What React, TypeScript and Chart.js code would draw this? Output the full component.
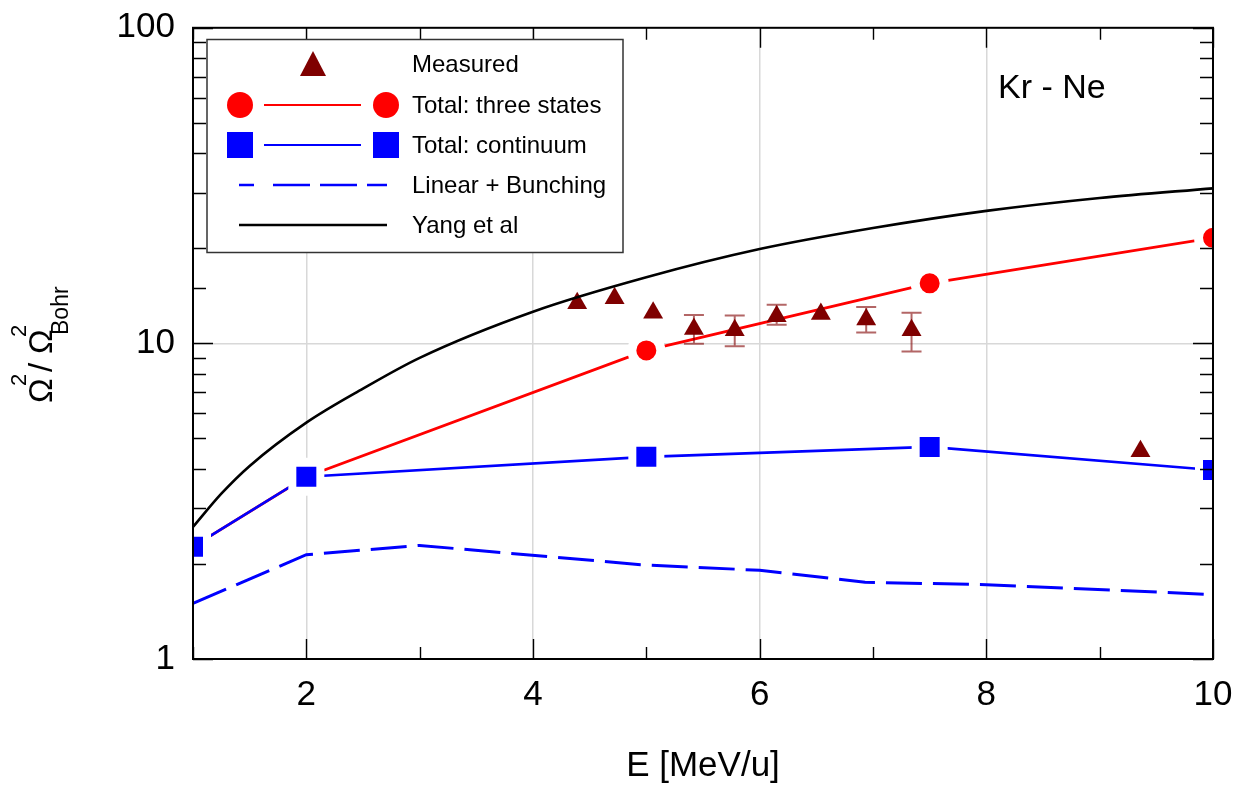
import React, { useEffect, useRef } from 'react';
import { Chart, registerables } from 'chart.js';

Chart.register(...registerables);

// ---------- data ----------
const yangE = [1, 1.25, 1.5, 2, 2.5, 3, 4, 5, 6, 7, 8, 9, 10];
const yangV = [2.62, 3.34, 4.09, 5.61, 7.19, 9.0, 12.6, 16.2, 19.9, 23.2, 26.3, 28.9, 31.0];

const threeE = [1, 2, 5, 7.5, 10];
const threeV = [2.27, 3.78, 9.5, 15.5, 21.6];

const contE = [1, 2, 5, 7.5, 10];
const contV = [2.27, 3.78, 4.37, 4.7, 3.97];

const bunchE = [1, 2, 3, 4.95, 6, 6.93, 8, 10];
const bunchV = [1.5, 2.14, 2.29, 1.99, 1.91, 1.75, 1.72, 1.6];

const measE = [4.39, 4.72, 5.06, 5.42, 5.78, 6.15, 6.54, 6.94, 7.34, 9.36];
const measV = [13.4, 13.9, 12.5, 11.1, 11.0, 12.2, 12.4, 11.9, 11.0, 4.55];
const measLo: (number | null)[] = [null, null, null, 9.98, 9.8, 11.46, null, 10.83, 9.43, null];
const measHi: (number | null)[] = [null, null, null, 12.3, 12.25, 13.25, null, 13.05, 12.5, null];

const xTickLabels = ['2', '4', '6', '8', '10'];
const yTickLabels = ['1', '10', '100'];

const legendLabels = ['Measured', 'Total: three states', 'Total: continuum', 'Linear + Bunching', 'Yang et al'];
const panelLabel = 'Kr - Ne';
const xTitle = 'E [MeV/u]';

const FONT = '"Liberation Sans", Arial, Helvetica, sans-serif';
const RED = '#ff0000';
const BLUE = '#0000ff';
const MAROON = '#7f0000';

const pts = (xs: number[], ys: number[]) => xs.map((x, i) => ({ x, y: ys[i] }));

const decorPlugin = {
  id: 'decor',
  afterDatasetsDraw(chart: any) {
    const { ctx: c, chartArea: a } = chart;
    const xs = chart.scales.x;
    const ys = chart.scales.y;
    c.save();
    c.beginPath();
    c.rect(a.left, a.top, a.right - a.left, a.bottom - a.top);
    c.clip();
    c.strokeStyle = 'rgba(128,0,0,0.6)';
    c.lineWidth = 2;
    for (let i = 0; i < measE.length; i++) {
      const lo = measLo[i];
      const hi = measHi[i];
      if (lo == null || hi == null) continue;
      const px = xs.getPixelForValue(measE[i]);
      const pl = ys.getPixelForValue(lo);
      const ph = ys.getPixelForValue(hi);
      c.beginPath();
      c.moveTo(px, pl);
      c.lineTo(px, ph);
      c.moveTo(px - 10, pl);
      c.lineTo(px + 10, pl);
      c.moveTo(px - 10, ph);
      c.lineTo(px + 10, ph);
      c.stroke();
    }
    c.restore();
  },
  afterDraw(chart: any) {
    const { ctx: c, chartArea: a } = chart;
    const xs = chart.scales.x;
    const ys = chart.scales.y;
    c.save();
    // inward tick marks
    c.strokeStyle = '#000';
    c.lineWidth = 1.4;
    c.beginPath();
    for (const t of xs.ticks) {
      const px = Math.round(xs.getPixelForValue(t.value)) + 0.5;
      const len = Math.round(t.value) % 2 === 0 ? 20 : 12;
      c.moveTo(px, a.bottom);
      c.lineTo(px, a.bottom - len);
      c.moveTo(px, a.top);
      c.lineTo(px, a.top + len);
    }
    for (const t of ys.ticks) {
      const v = t.value;
      const lg = Math.log10(v);
      const major = Math.abs(lg - Math.round(lg)) < 1e-9;
      const py = Math.round(ys.getPixelForValue(v)) + 0.5;
      const len = major ? 20 : 13;
      c.moveTo(a.left, py);
      c.lineTo(a.left + len, py);
      c.moveTo(a.right, py);
      c.lineTo(a.right - len, py);
    }
    c.stroke();
    // frame
    c.lineWidth = 2;
    c.strokeRect(a.left, a.top, a.right - a.left, a.bottom - a.top);

    // legend
    const bx = 207, by = 39.5, bw = 416, bh = 213;
    c.fillStyle = '#fff';
    c.fillRect(bx, by, bw, bh);
    c.strokeStyle = '#333';
    c.lineWidth = 1.5;
    c.strokeRect(bx, by, bw, bh);
    const rows = [64, 105, 145, 185, 225];
    const lx1 = 240, lx2 = 386;
    // row 0 triangle
    c.fillStyle = MAROON;
    c.beginPath();
    c.moveTo(313, rows[0] - 13);
    c.lineTo(326, rows[0] + 12);
    c.lineTo(300, rows[0] + 12);
    c.closePath();
    c.fill();
    // row 1 circles + line
    c.fillStyle = RED;
    c.strokeStyle = RED;
    c.lineWidth = 2.2;
    for (const x of [lx1, lx2]) {
      c.beginPath();
      c.arc(x, rows[1], 13, 0, Math.PI * 2);
      c.fill();
    }
    c.beginPath();
    c.moveTo(264, rows[1]);
    c.lineTo(361, rows[1]);
    c.stroke();
    // row 2 squares + line
    c.fillStyle = BLUE;
    c.strokeStyle = BLUE;
    for (const x of [lx1, lx2]) c.fillRect(x - 13, rows[2] - 13, 26, 26);
    c.beginPath();
    c.moveTo(264, rows[2]);
    c.lineTo(361, rows[2]);
    c.stroke();
    // row 3 dashed
    c.lineWidth = 2.5;
    c.beginPath();
    for (const [s, e] of [[239, 254], [273, 310], [320, 357], [367, 387]]) {
      c.moveTo(s, rows[3]);
      c.lineTo(e, rows[3]);
    }
    c.stroke();
    // row 4 black
    c.strokeStyle = '#000';
    c.beginPath();
    c.moveTo(239, rows[4]);
    c.lineTo(387, rows[4]);
    c.stroke();
    // legend text
    c.fillStyle = '#000';
    c.font = `24px ${FONT}`;
    c.textAlign = 'left';
    c.textBaseline = 'middle';
    legendLabels.forEach((s, i) => c.fillText(s, 412, rows[i] + 1));

    // panel label
    c.font = `34px ${FONT}`;
    c.textBaseline = 'alphabetic';
    c.fillText(panelLabel, 998, 98);

    // y title (rotated) with super/subscripts
    c.translate(52, 403);
    c.rotate(-Math.PI / 2);
    c.textBaseline = 'alphabetic';
    c.font = `33px ${FONT}`;
    c.fillText('\u03A9', 0, 0);
    c.font = `22px ${FONT}`;
    c.fillText('2', 17, -26);
    c.font = `33px ${FONT}`;
    c.fillText('/', 31, 0);
    c.fillText('\u03A9', 49, 0);
    c.font = `22px ${FONT}`;
    c.fillText('2', 66, -26);
    c.font = `23px ${FONT}`;
    c.fillText('Bohr', 68, 16);
    c.restore();
  },
};

export default function App() {
  const ref = useRef<HTMLCanvasElement>(null);
  useEffect(() => {
    document.body.style.margin = '0';
    const canvas = ref.current!;
    const chart = new Chart(canvas, {
      type: 'line',
      data: {
        datasets: [
          {
            label: legendLabels[4],
            data: pts(yangE, yangV),
            borderColor: '#000',
            borderWidth: 2.6,
            pointRadius: 0,
            cubicInterpolationMode: 'monotone',
            fill: false,
            order: 0,
          } as any,
          {
            label: legendLabels[0],
            data: pts(measE, measV),
            showLine: false,
            pointStyle: 'triangle',
            pointRadius: 11.5,
            pointBackgroundColor: MAROON,
            pointBorderColor: MAROON,
            pointBorderWidth: 0,
            order: 1,
          } as any,
          {
            label: legendLabels[2],
            data: pts(contE, contV),
            borderColor: BLUE,
            borderWidth: 2.6,
            pointStyle: 'rect',
            pointRadius: 19.8,
            pointBackgroundColor: BLUE,
            pointBorderColor: '#ffffff',
            pointBorderWidth: 8,
            tension: 0,
            order: 2,
          } as any,
          {
            label: legendLabels[1],
            data: pts(threeE, threeV),
            borderColor: RED,
            borderWidth: 2.8,
            pointStyle: 'circle',
            pointRadius: 14.5,
            pointBackgroundColor: RED,
            pointBorderColor: '#ffffff',
            pointBorderWidth: 9,
            tension: 0,
            order: 3,
          } as any,
          {
            label: legendLabels[3],
            data: pts(bunchE, bunchV),
            borderColor: BLUE,
            borderWidth: 3,
            borderDash: [36, 11],
            pointRadius: 0,
            tension: 0,
            order: 4,
          } as any,
        ],
      },
      options: {
        responsive: false,
        devicePixelRatio: 1,
        animation: false,
        events: [],
        layout: { padding: { left: 0, top: 25, right: 31, bottom: 0 } },
        plugins: { legend: { display: false }, tooltip: { enabled: false } },
        scales: {
          x: {
            type: 'linear',
            min: 1,
            max: 10,
            afterFit: (s: any) => {
              s.height = 132;
              s.paddingLeft = 0;
              s.paddingRight = 0;
              s.paddingTop = 0;
              s.paddingBottom = 0;
            },
            ticks: {
              stepSize: 1,
              autoSkip: false,
              maxRotation: 0,
              padding: 15,
              color: '#000',
              font: { family: FONT, size: 35 },
              callback: (v: any) => {
                const s = String(v);
                return xTickLabels.includes(s) ? s : '';
              },
            },
            grid: {
              drawTicks: false,
              lineWidth: 1.5,
              color: (ctx: any) =>
                ctx.tick && ['2', '4', '6', '8'].includes(String(ctx.tick.value)) ? '#d8d8d8' : 'rgba(0,0,0,0)',
            },
            border: { display: false },
            title: {
              display: true,
              text: xTitle,
              color: '#000',
              font: { family: FONT, size: 35 },
              padding: { top: 0, bottom: 4 },
            },
          },
          y: {
            type: 'logarithmic',
            min: 1,
            max: 100,
            afterFit: (s: any) => {
              s.width = 193;
              s.paddingLeft = 0;
              s.paddingRight = 0;
              s.paddingTop = 0;
              s.paddingBottom = 0;
            },
            ticks: {
              autoSkip: false,
              padding: 18,
              color: '#000',
              font: { family: FONT, size: 35 },
              callback: (v: any) => {
                const s = String(Number(v));
                return yTickLabels.includes(s) ? s : '';
              },
            },
            grid: {
              drawTicks: false,
              lineWidth: 1.5,
              color: (ctx: any) => (ctx.tick && ctx.tick.value === 10 ? '#d8d8d8' : 'rgba(0,0,0,0)'),
            },
            border: { display: false },
          },
        },
      },
      plugins: [decorPlugin],
    } as any);
    return () => chart.destroy();
  }, []);
  return (
    <div style={{ width: 1244, height: 791 }}>
      <canvas ref={ref} width={1244} height={791} style={{ display: 'block' }} />
    </div>
  );
}
